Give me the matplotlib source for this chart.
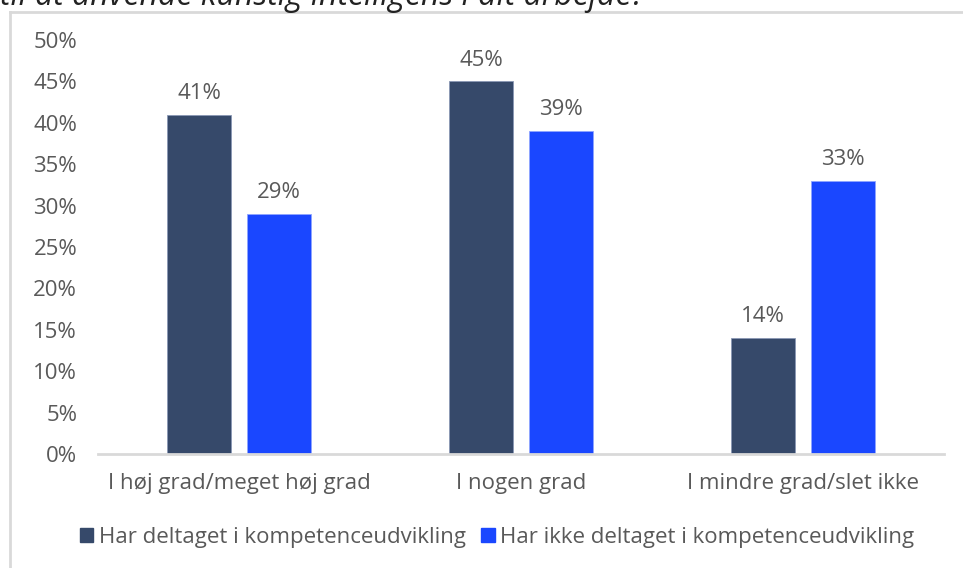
import numpy as np
import matplotlib.pyplot as plt
from matplotlib.lines import Line2D

plt.rcParams['font.family'] = ['Open Sans', 'DejaVu Sans']

categories = ['I høj grad/meget høj grad', 'I nogen grad', 'I mindre grad/slet ikke']
series_names = ['Har deltaget i kompetenceudvikling', 'Har ikke deltaget i kompetenceudvikling']
deltaget = [41, 45, 14]
ikke_deltaget = [29, 39, 33]
yticks = [0, 5, 10, 15, 20, 25, 30, 35, 40, 45, 50]

dark = '#36496a'
blue = '#1a47ff'
txt = '#595959'
fs = 16

fig = plt.figure(figsize=(9.63, 5.68), dpi=100)
ax = fig.add_axes([98 / 963, 1 - 454 / 568, 846 / 963, 414 / 568])

x = np.arange(len(categories))
w = 0.227
off = 0.142
b1 = ax.bar(x - off, deltaget, w, color=dark, edgecolor='#8a98b5', linewidth=0.6)
b2 = ax.bar(x + off, ikke_deltaget, w, color=blue, edgecolor='#8fa5ff', linewidth=0.6)

for bars, vals in ((b1, deltaget), (b2, ikke_deltaget)):
    for r, v in zip(bars, vals):
        ax.text(r.get_x() + r.get_width() / 2, v + 1.3, f'{v}%', ha='center', va='bottom',
                fontsize=fs, color=txt)

ax.set_xlim(-0.5, 2.5)
ax.set_ylim(0, 50)
ax.set_yticks(yticks)
ax.set_yticklabels([f'{t}%' for t in yticks], fontsize=fs, color=txt)
ax.set_xticks(x)
ax.set_xticklabels(categories, fontsize=fs, color=txt)
ax.tick_params(length=0)
ax.tick_params(axis='y', pad=15)
ax.tick_params(axis='x', pad=14)
for s in ['top', 'right', 'left']:
    ax.spines[s].set_visible(False)
ax.spines['bottom'].set_color('#d9d9d9')
ax.spines['bottom'].set_linewidth(2)

handles = [plt.Rectangle((0, 0), 1, 1, color=dark), plt.Rectangle((0, 0), 1, 1, color=blue)]
fig.legend(handles, series_names, loc='center', bbox_to_anchor=(497 / 963, 1 - 537 / 568),
           ncol=2, frameon=False, fontsize=fs, labelcolor=txt, handlelength=0.6,
           handleheight=0.6, handletextpad=0.25, columnspacing=0.7)

# outer frame around the chart, only top and left edges in view
fig.add_artist(Line2D([10 / 963, 10 / 963], [0, 1 - 11.5 / 568], color='#d9d9d9', lw=2,
                      transform=fig.transFigure))
fig.add_artist(Line2D([10 / 963, 1], [1 - 11.5 / 568, 1 - 11.5 / 568], color='#d9d9d9', lw=2,
                      transform=fig.transFigure))

fig.text(0, 1 - 5 / 568, 'til at anvende kunstig intelligens i dit arbejde?', fontsize=23,
         style='italic', color='#222222', va='baseline')

fig.savefig('out.png', dpi=100)
